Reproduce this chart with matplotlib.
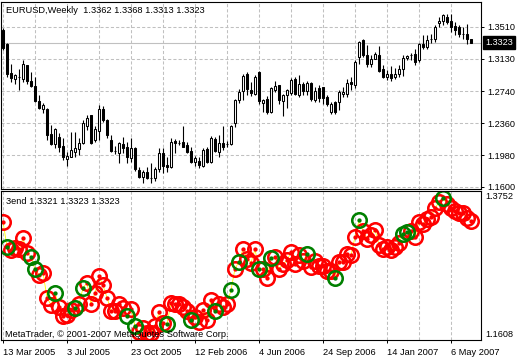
import matplotlib
matplotlib.use('Agg')
import matplotlib.pyplot as plt
import matplotlib.transforms as mtransforms
import numpy as np

plt.rcParams['font.family'] = ['Liberation Sans', 'DejaVu Sans']

# ---------------- data (weekly EURUSD, 118 bars) ----------------
opens = [
    1.3468, 1.3310, 1.2960, 1.2885, 1.2910, 1.2894, 1.3052, 1.2861, 1.2805, 1.2623,
    1.2525, 1.2525, 1.2231, 1.2112, 1.2191, 1.2088, 1.1930, 1.1961, 1.2020, 1.2049,
    1.2120, 1.2326, 1.2457, 1.2159, 1.2270, 1.2525, 1.2397, 1.2159, 1.2028, 1.2008,
    1.2112, 1.2080, 1.1942, 1.2068, 1.1802, 1.1715, 1.1775, 1.1702, 1.1704, 1.1811,
    1.2008, 1.1862, 1.1842, 1.2147, 1.2125, 1.2136, 1.2100, 1.2028, 1.1901, 1.1913,
    1.1853, 1.2049, 1.1901, 1.2168, 1.2020, 1.2120, 1.2115, 1.2112, 1.2365, 1.2635,
    1.2746, 1.2953, 1.2754, 1.2707, 1.2972, 1.2603, 1.2656, 1.2496, 1.2763, 1.2814,
    1.2627, 1.2695, 1.2722, 1.2894, 1.2695, 1.2826, 1.2746, 1.2841, 1.2635, 1.2786,
    1.2794, 1.2675, 1.2496, 1.2615, 1.2615, 1.2715, 1.2707, 1.2853, 1.2814, 1.3151,
    1.3358, 1.3179, 1.3064, 1.3132, 1.3179, 1.3004, 1.2913, 1.2953, 1.2913, 1.2953,
    1.3013, 1.3139, 1.3177, 1.3191, 1.3111, 1.3310, 1.3270, 1.3367, 1.3370, 1.3560,
    1.3587, 1.3627, 1.3587, 1.3519, 1.3508, 1.3427, 1.3429, 1.3362]
highs = [
    1.3492, 1.3314, 1.3072, 1.2953, 1.3013, 1.3120, 1.3055, 1.2972, 1.2913, 1.2695,
    1.2603, 1.2537, 1.2338, 1.2299, 1.2239, 1.2180, 1.2020, 1.2258, 1.2251, 1.2180,
    1.2397, 1.2457, 1.2460, 1.2326, 1.2576, 1.2564, 1.2406, 1.2219, 1.2088, 1.2139,
    1.2199, 1.2139, 1.2180, 1.2080, 1.1842, 1.1802, 1.1842, 1.1889, 1.1842, 1.2061,
    1.2061, 1.1961, 1.2180, 1.2168, 1.2159, 1.2326, 1.2139, 1.2080, 1.1969, 1.1961,
    1.2061, 1.2080, 1.2207, 1.2199, 1.2219, 1.2326, 1.2151, 1.2338, 1.2656, 1.2775,
    1.2953, 1.2972, 1.2853, 1.2933, 1.2984, 1.2656, 1.2683, 1.2794, 1.2861, 1.2818,
    1.2707, 1.2775, 1.2905, 1.2913, 1.2933, 1.2853, 1.2865, 1.2853, 1.2794, 1.2814,
    1.2794, 1.2695, 1.2615, 1.2627, 1.2754, 1.2794, 1.2894, 1.2913, 1.3111, 1.3337,
    1.3370, 1.3290, 1.3171, 1.3210, 1.3281, 1.3052, 1.2992, 1.3043, 1.3020, 1.3052,
    1.3171, 1.3179, 1.3203, 1.3251, 1.3322, 1.3409, 1.3417, 1.3429, 1.3536, 1.3627,
    1.3667, 1.3667, 1.3667, 1.3567, 1.3528, 1.3508, 1.3548, 1.3368]
lows = [
    1.3230, 1.2913, 1.2853, 1.2834, 1.2763, 1.2853, 1.2834, 1.2794, 1.2615, 1.2525,
    1.2484, 1.2159, 1.2100, 1.2061, 1.2020, 1.1921, 1.1853, 1.1953, 1.1961, 1.1981,
    1.2112, 1.2278, 1.2112, 1.2139, 1.2159, 1.2377, 1.2180, 1.2020, 1.1993, 1.1889,
    1.2001, 1.1889, 1.1901, 1.1794, 1.1704, 1.1644, 1.1692, 1.1644, 1.1675, 1.1782,
    1.1763, 1.1782, 1.1823, 1.2001, 1.2100, 1.2072, 1.2001, 1.1882, 1.1850, 1.1823,
    1.1842, 1.1882, 1.1889, 1.2020, 1.1961, 1.2040, 1.2080, 1.2100, 1.2318, 1.2603,
    1.2644, 1.2695, 1.2683, 1.2695, 1.2596, 1.2496, 1.2477, 1.2484, 1.2734, 1.2596,
    1.2445, 1.2548, 1.2695, 1.2695, 1.2675, 1.2695, 1.2695, 1.2627, 1.2615, 1.2615,
    1.2596, 1.2564, 1.2469, 1.2469, 1.2516, 1.2675, 1.2675, 1.2754, 1.2782, 1.3072,
    1.3151, 1.3032, 1.3032, 1.3123, 1.2972, 1.2901, 1.2873, 1.2861, 1.2894, 1.2913,
    1.2924, 1.3111, 1.3111, 1.3052, 1.3091, 1.3251, 1.3242, 1.3322, 1.3329, 1.3508,
    1.3528, 1.3548, 1.3448, 1.3409, 1.3389, 1.3370, 1.3310, 1.3313]
closes = [
    1.3254, 1.2953, 1.2905, 1.2933, 1.2915, 1.3072, 1.2861, 1.2802, 1.2623, 1.2548,
    1.2576, 1.2219, 1.2112, 1.2290, 1.2080, 1.1953, 1.1969, 1.2040, 1.2068, 1.2120,
    1.2358, 1.2429, 1.2127, 1.2287, 1.2525, 1.2397, 1.2219, 1.2032, 1.2032, 1.2120,
    1.2064, 1.1953, 1.2061, 1.1811, 1.1723, 1.1775, 1.1704, 1.1706, 1.1811, 1.2008,
    1.1850, 1.1842, 1.2139, 1.2127, 1.2129, 1.2080, 1.2020, 1.1901, 1.1942, 1.1862,
    1.2040, 1.1901, 1.2180, 1.2032, 1.2120, 1.2080, 1.2119, 1.2326, 1.2635, 1.2734,
    1.2921, 1.2775, 1.2722, 1.2913, 1.2627, 1.2635, 1.2496, 1.2786, 1.2802, 1.2635,
    1.2695, 1.2754, 1.2873, 1.2707, 1.2826, 1.2742, 1.2841, 1.2656, 1.2746, 1.2667,
    1.2667, 1.2596, 1.2596, 1.2496, 1.2734, 1.2734, 1.2841, 1.2826, 1.3091, 1.3329,
    1.3179, 1.3064, 1.3123, 1.3191, 1.2980, 1.2913, 1.2953, 1.2901, 1.2953, 1.3004,
    1.3139, 1.3162, 1.3181, 1.3091, 1.3310, 1.3270, 1.3349, 1.3371, 1.3508, 1.3587,
    1.3647, 1.3567, 1.3508, 1.3468, 1.3429, 1.3431, 1.3370, 1.3323]

# indicator "3end" values (circle centres) and which bars are green
ind_values = [
    1.3310, 1.2953, 1.2905, 1.2933, 1.2915, 1.3072, 1.2861, 1.2802, 1.2623, 1.2548,
    1.2576, 1.2219, 1.2112, 1.2290, 1.2080, 1.1953, 1.1969, 1.2040, 1.2068, 1.2120,
    1.2358, 1.2429, 1.2127, 1.2287, 1.2525, 1.2397, 1.2219, 1.2032, 1.2032, 1.2120,
    1.2064, 1.1953, 1.2061, 1.1811, 1.1723, 1.1775, 1.1704, 1.1706, 1.1811, 1.2008,
    1.1850, 1.1842, 1.2139, 1.2127, 1.2129, 1.2080, 1.2020, 1.1901, 1.1942, 1.1862,
    1.2040, 1.1901, 1.2180, 1.2032, 1.2120, 1.2080, 1.2119, 1.2326, 1.2635, 1.2734,
    1.2921, 1.2775, 1.2722, 1.2913, 1.2627, 1.2635, 1.2496, 1.2786, 1.2802, 1.2635,
    1.2695, 1.2754, 1.2873, 1.2707, 1.2826, 1.2742, 1.2841, 1.2656, 1.2746, 1.2667,
    1.2667, 1.2596, 1.2596, 1.2496, 1.2734, 1.2734, 1.2841, 1.2826, 1.3091, 1.3329,
    1.3179, 1.3064, 1.3123, 1.3191, 1.2980, 1.2913, 1.2953, 1.2901, 1.2953, 1.3004,
    1.3139, 1.3162, 1.3181, 1.3091, 1.3310, 1.3270, 1.3349, 1.3371, 1.3508, 1.3587,
    1.3647, 1.3567, 1.3508, 1.3468, 1.3429, 1.3431, 1.3370, 1.3323]
green_bars = [1, 7, 8, 13, 18, 20, 31, 33, 41, 47, 53, 57, 59, 64, 67, 76, 83, 89,
              100, 101, 110]
ind_last = [1.3321, 1.3323, 1.3323]

date_labels = ['13 Mar 2005', '3 Jul 2005', '23 Oct 2005', '12 Feb 2006',
               '4 Jun 2006', '24 Sep 2006', '14 Jan 2007', '6 May 2007']
price_ticks = [1.3510, 1.3130, 1.2740, 1.2360, 1.1980, 1.1600]
price_labels = ['1.3510', '1.3130', '1.2740', '1.2360', '1.1980', '1.1600']
sub_max, sub_min = 1.3752, 1.1608

# ---------------- figure ----------------
W, H = 520, 360
fig = plt.figure(figsize=(W / 100, H / 100), dpi=100)
fig.patch.set_facecolor('white')


def rect(x0, y0, x1, y1):
    return [x0 / W, 1 - y1 / H, (x1 - x0) / W, (y1 - y0) / H]


ax1 = fig.add_axes(rect(1, 2, 481, 189))
ax2 = fig.add_axes(rect(1, 191, 481, 340))

o = np.array(opens); h = np.array(highs); l = np.array(lows); c = np.array(closes)
x = np.arange(len(o))
grid_pos = np.arange(0, len(o), 8)
label_pos = np.arange(0, len(o), 16)[:len(date_labels)]

gridkw = dict(color='#C0C0C0', linestyle=(0, (3, 2)), linewidth=0.75)

for ax in (ax1, ax2):
    ax.set_xlim(-0.5, 119.5)
    for s in ax.spines.values():
        s.set_color('black')
        s.set_linewidth(0.8)
    ax.set_xticks(grid_pos, minor=True)
    ax.set_xticks(label_pos)
    ax.grid(True, which='both', axis='x', **gridkw)
    ax.set_axisbelow(True)
    ax.tick_params(which='minor', length=0)

# upper panel: candlesticks
ax1.set_ylim(1.1576, 1.3808)
ax1.yaxis.tick_right()
ax1.set_yticks(price_ticks, price_labels)
ax1.tick_params(axis='y', direction='out', length=2.2, width=0.7, pad=2.5,
                labelsize=6.6, colors='black')
ax1.tick_params(axis='x', length=0, labelbottom=False)
ax1.grid(True, axis='y', **gridkw)
ax1.axhline(c[-1], color='#C0C0C0', linewidth=0.8, zorder=1)

ax1.vlines(x, l, h, color='black', linewidth=0.8, zorder=2)
up = c >= o
ax1.bar(x[up], (c - o)[up], bottom=o[up], width=0.55, color='white',
        edgecolor='black', linewidth=0.75, zorder=3)
ax1.bar(x[~up], (o - c)[~up], bottom=c[~up], width=0.55, color='black',
        edgecolor='black', linewidth=0.75, zorder=3)

ax1.annotate(f'{c[-1]:.4f}', xy=(1, c[-1]), xycoords=('axes fraction', 'data'),
             xytext=(4, 0), textcoords='offset pixels', ha='left', va='center',
             fontsize=6.6, color='white', annotation_clip=False,
             bbox=dict(boxstyle='square,pad=0.2', fc='black', ec='black'))

fig.text(6.5 / W, 1 - 10.5 / H,
         f'EURUSD,Weekly  {o[-1]:.4f} {h[-1]:.4f} {l[-1]:.4f} {c[-1]:.4f}',
         ha='left', va='center', fontsize=6.7)

# lower panel: indicator circles
ax2.set_ylim(sub_min, sub_max)
ax2.set_yticks([])
ind = np.array(ind_values)
is_green = np.isin(x, green_bars)
ax2.plot(x, ind, color='#FFFF00', linewidth=0.6, zorder=1)
ringkw = dict(ls='none', marker='o', ms=10.4, mfc='none', mew=1.85, zorder=2)
dotkw = dict(ls='none', marker='o', ms=3.1, mec='none', zorder=2)
ax2.plot(x[~is_green], ind[~is_green], mec='#FF0000', **ringkw)
ax2.plot(x[~is_green], ind[~is_green], mfc='#FF0000', **dotkw)
ax2.plot(x[is_green], ind[is_green], mec='#008000', **ringkw)
ax2.plot(x[is_green], ind[is_green], mfc='#008000', **dotkw)

ax2.set_xticklabels(date_labels, fontsize=6.7)
for lab in ax2.get_xticklabels():
    lab.set_horizontalalignment('left')
ax2.tick_params(axis='x', which='major', direction='out', length=2.5, width=0.7,
                pad=3.5, colors='black')

ax2.text(1.0, 1.0, f'{sub_max:.4f}', transform=mtransforms.offset_copy(
    ax2.transAxes, fig=fig, x=4, y=-1, units='dots'), ha='left', va='top', fontsize=6.6)
ax2.text(1.0, 0.0, f'{sub_min:.4f}', transform=mtransforms.offset_copy(
    ax2.transAxes, fig=fig, x=4, y=1, units='dots'), ha='left', va='bottom', fontsize=6.6)

fig.text(6 / W, 1 - 201.5 / H,
         '3end ' + ' '.join(f'{v:.4f}' for v in ind_last),
         ha='left', va='center', fontsize=6.7)
fig.text(5 / W, 1 - 334.5 / H, 'MetaTrader, © 2001-2007 MetaQuotes Software Corp.',
         ha='left', va='center', fontsize=6.7, zorder=10)

fig.savefig('out.png', dpi=100, facecolor='white')
